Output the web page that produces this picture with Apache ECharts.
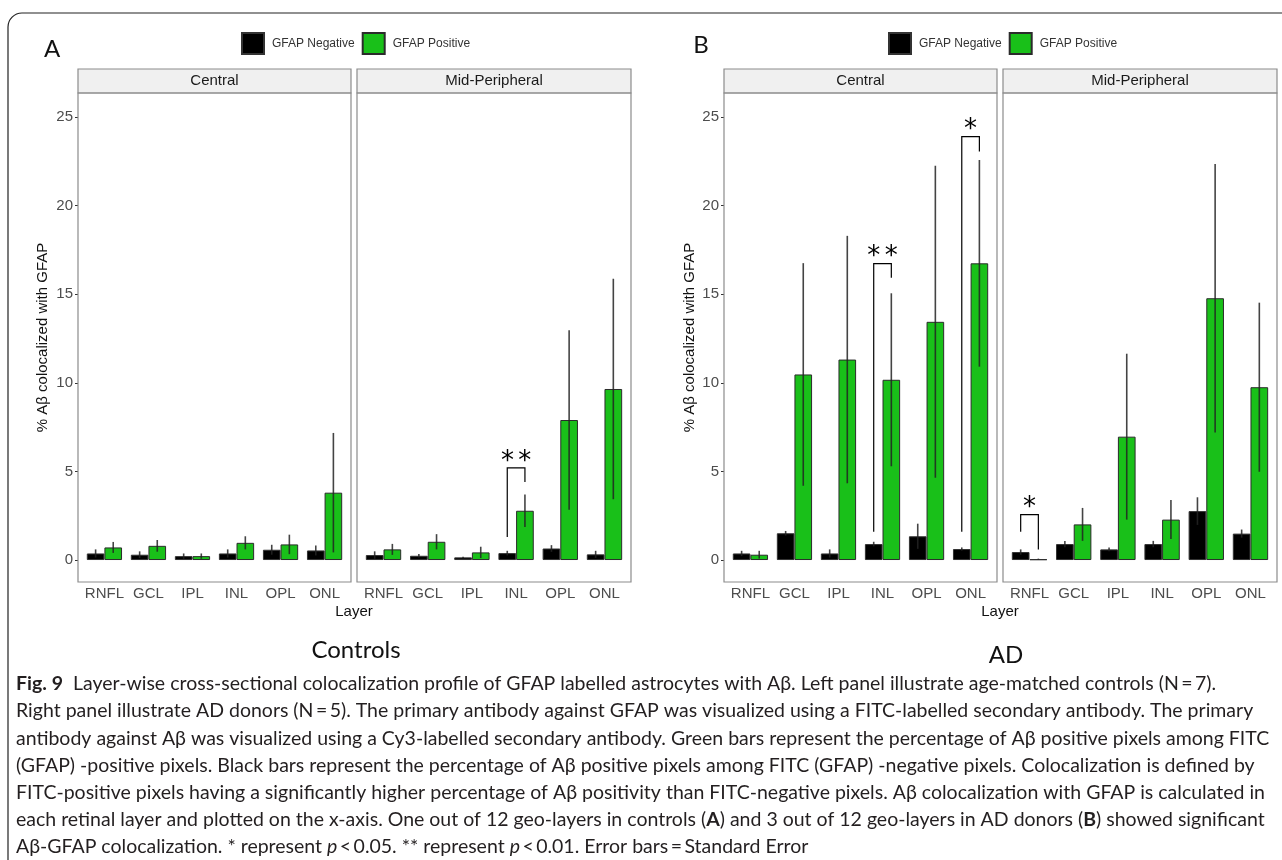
<!DOCTYPE html>
<html>
<head>
<meta charset="utf-8">
<script src="https://cdn.jsdelivr.net/npm/echarts@6/dist/echarts.min.js"></script>
<style>
  html, body { margin: 0; padding: 0; background: #fff; }
  #chart { width: 1282px; height: 860px; }
</style>
</head>
<body>
<div id="chart"></div>
<script>
const layers = ["RNFL", "GCL", "IPL", "INL", "OPL", "ONL"];
const regions = ["Central", "Mid-Peripheral"];
const yTicks = [0, 5, 10, 15, 20, 25];

// A: controls
const ctrlCentralNeg = [0.37, 0.30, 0.22, 0.37, 0.58, 0.54];
const ctrlCentralNegSE = [0.23, 0.19, 0.15, 0.23, 0.28, 0.28];
const ctrlCentralPos = [0.71, 0.80, 0.22, 0.97, 0.88, 3.80];
const ctrlCentralPosSE = [0.31, 0.33, 0.15, 0.37, 0.55, 3.37];
const ctrlMidNeg = [0.28, 0.24, 0.15, 0.39, 0.65, 0.32];
const ctrlMidNegSE = [0.21, 0.10, 0.04, 0.13, 0.19, 0.20];
const ctrlMidPos = [0.60, 1.03, 0.43, 2.78, 7.90, 9.65];
const ctrlMidPosSE = [0.31, 0.43, 0.32, 0.92, 5.06, 6.22];

// B: AD donors
const adCentralNeg = [0.37, 1.51, 0.37, 0.90, 1.34, 0.62];
const adCentralNegSE = [0.15, 0.13, 0.23, 0.13, 0.71, 0.09];
const adCentralPos = [0.30, 10.47, 11.31, 10.17, 13.44, 16.74];
const adCentralPosSE = [0.22, 6.28, 6.98, 4.88, 8.80, 5.83];
const adMidNeg = [0.45, 0.90, 0.60, 0.90, 2.76, 1.49];
const adMidNegSE = [0.15, 0.18, 0.11, 0.18, 0.78, 0.23];
const adMidPos = [0.04, 2.01, 6.96, 2.28, 14.77, 9.75];
const adMidPosSE = [0.04, 0.93, 4.68, 1.10, 7.57, 4.77];

// significance brackets: [layer index, top, left leg end, right leg end, mark]
const ctrlCentralSig = [];
const ctrlMidSig = [[3, 5.2, 1.3, 4.4, "*\u2006*"]];
const adCentralSig = [[3, 16.72, 1.59, 15.93, "*\u2006*"], [5, 23.89, 1.59, 23.05, "*"]];
const adMidSig = [[0, 2.56, 1.59, 0.6, "*"]];

const chart = echarts.init(document.getElementById("chart"));

const AXIS_FONT = "Liberation Sans, Arial, sans-serif";
const CAP_FONT = "Lato, sans-serif";
const CAP_SIZE = 19.5;
const GREEN = "#19c019";

// panel boxes (layout only)
const panels = [
  { left: 78, width: 273, region: 0 },
  { left: 357, width: 274, region: 1 },
  { left: 724, width: 273, region: 0 },
  { left: 1003, width: 274, region: 1 },
];
const PANEL_TOP = 93, PANEL_H = 489, STRIP_TOP = 69, STRIP_H = 24;
const Y_MIN = -1.24, Y_MAX = 26.35;

const panelData = [
  { neg: ctrlCentralNeg, negSE: ctrlCentralNegSE, pos: ctrlCentralPos, posSE: ctrlCentralPosSE, sig: ctrlCentralSig },
  { neg: ctrlMidNeg, negSE: ctrlMidNegSE, pos: ctrlMidPos, posSE: ctrlMidPosSE, sig: ctrlMidSig },
  { neg: adCentralNeg, negSE: adCentralNegSE, pos: adCentralPos, posSE: adCentralPosSE, sig: adCentralSig },
  { neg: adMidNeg, negSE: adMidNegSE, pos: adMidPos, posSE: adMidPosSE, sig: adMidSig },
];

function errSeries(p, mean, se, side) {
  return {
    type: "custom", xAxisIndex: p, yAxisIndex: p, silent: true, z: 4,
    data: mean.map((m, i) => [i, Math.max(0, m - se[i]), m + se[i]]),
    renderItem: (params, api) => {
      const band = api.size([1, 0])[0];
      const lo = api.coord([api.value(0), api.value(1)]);
      const hi = api.coord([api.value(0), api.value(2)]);
      const x = lo[0] + side * band * 0.2;
      return {
        type: "line",
        shape: { x1: x, y1: lo[1], x2: x, y2: hi[1] },
        style: { stroke: "rgba(35,35,35,0.85)", lineWidth: 1.6 },
      };
    },
  };
}

function sigSeries(p, sig) {
  return {
    type: "custom", xAxisIndex: p, yAxisIndex: p, silent: true, z: 5,
    data: sig.map(r => [r[0], r[1], r[2], r[3]]),
    renderItem: (params, api) => {
      const band = api.size([1, 0])[0];
      const c = api.coord([api.value(0), api.value(1)]);
      const yl = api.coord([api.value(0), api.value(2)])[1];
      const yr = api.coord([api.value(0), api.value(3)])[1];
      const xl = c[0] - band * 0.2, xr = c[0] + band * 0.2;
      return {
        type: "group",
        children: [
          { type: "polyline", shape: { points: [[xl, yl], [xl, c[1]], [xr, c[1]], [xr, yr]] },
            style: { stroke: "#000", lineWidth: 1.2, fill: null } },
          { type: "text", x: c[0], y: c[1] - 6,
            style: { text: sig[params.dataIndex][4], fontSize: 26, fontFamily: "DejaVu Sans", fill: "#000",
                     align: "center", verticalAlign: "middle" } },
        ],
      };
    },
  };
}

const grids = [], xAxes = [], yAxes = [], series = [];
panels.forEach((pn, p) => {
  const unit = pn.width / 6.2;
  grids.push({ left: pn.left + 0.1 * unit, width: 6 * unit, top: PANEL_TOP, height: PANEL_H });
  xAxes.push({
    type: "category", gridIndex: p, data: layers,
    axisLine: { show: false },
    axisTick: { alignWithLabel: true, length: 3, lineStyle: { color: "#333" } },
    axisLabel: { color: "#4d4d4d", fontSize: 15, fontFamily: AXIS_FONT, margin: 4, interval: 0 },
  });
  const leftPanel = pn.region === 0;
  yAxes.push({
    type: "value", gridIndex: p, min: Y_MIN, max: Y_MAX, offset: 0.1 * unit,
    splitLine: { show: false }, axisLine: { show: false },
    axisTick: { show: leftPanel, length: 3, lineStyle: { color: "#333" }, customValues: yTicks },
    axisLabel: { show: leftPanel, color: "#4d4d4d", fontSize: 15, fontFamily: AXIS_FONT, margin: 5, customValues: yTicks },
  });
  const d = panelData[p];
  series.push({
    type: "bar", name: "GFAP Negative", xAxisIndex: p, yAxisIndex: p, data: d.neg,
    barWidth: 0.4 * unit, barGap: "0%",
    itemStyle: { color: "#000", borderColor: "#333", borderWidth: 1 },
  });
  series.push({
    type: "bar", name: "GFAP Positive", xAxisIndex: p, yAxisIndex: p, data: d.pos,
    barWidth: 0.4 * unit, barGap: "0%",
    itemStyle: { color: GREEN, borderColor: "#2b2b2b", borderWidth: 1 },
  });
  series.push(errSeries(p, d.neg, d.negSE, -1));
  series.push(errSeries(p, d.pos, d.posSE, 1));
  if (d.sig.length) series.push(sigSeries(p, d.sig));
});

const graphics = [
  { type: "rect", shape: { x: 8, y: 13, width: 1400, height: 1000, r: 14 },
    style: { stroke: "#222", lineWidth: 1.2, fill: null }, silent: true },
];
panels.forEach(pn => {
  graphics.push({ type: "rect", shape: { x: pn.left, y: STRIP_TOP, width: pn.width, height: STRIP_H },
    style: { fill: "#f0f0f0", stroke: "#8c8c8c", lineWidth: 1.2 }, silent: true });
  graphics.push({ type: "text", x: pn.left + pn.width / 2, y: STRIP_TOP + STRIP_H / 2,
    style: { text: regions[pn.region], fontSize: 15, fontFamily: AXIS_FONT, fill: "#1a1a1a", align: "center", verticalAlign: "middle" } });
  graphics.push({ type: "rect", z: 10, shape: { x: pn.left, y: PANEL_TOP, width: pn.width, height: PANEL_H },
    style: { fill: null, stroke: "#8c8c8c", lineWidth: 1.2 }, silent: true });
});

function txt(x, y, text, size, opts) {
  return Object.assign({ type: "text", x, y, style: Object.assign({ text, fontSize: size, fontFamily: CAP_FONT, fill: "#111",
    align: "center", verticalAlign: "middle" }, opts || {}) });
}

graphics.push(txt(52, 49, "A", 24));
graphics.push(txt(701, 45, "B", 24));
[43, 690].forEach(x => graphics.push({ type: "text", x, y: PANEL_TOP + PANEL_H / 2, rotation: Math.PI / 2,
  style: { text: "% Aβ colocalized with GFAP", fontSize: 15, fontFamily: AXIS_FONT, fill: "#111", align: "center", verticalAlign: "middle" } }));
graphics.push(txt(354, 612, "Layer", 15, { fontFamily: AXIS_FONT }));
graphics.push(txt(1000, 612, "Layer", 15, { fontFamily: AXIS_FONT }));
graphics.push(txt(356, 650, "Controls", 24));
graphics.push(txt(1006, 655, "AD", 24));

const captionLines = [
  "{b|Fig. 9}  Layer-wise cross-sectional colocalization profile of GFAP labelled astrocytes with Aβ. Left panel illustrate age-matched controls (N\u2009=\u20097).",
  "Right panel illustrate AD donors (N\u2009=\u20095). The primary antibody against GFAP was visualized using a FITC-labelled secondary antibody. The primary",
  "antibody against Aβ was visualized using a Cy3-labelled secondary antibody. Green bars represent the percentage of Aβ positive pixels among FITC",
  "(GFAP) -positive pixels. Black bars represent the percentage of Aβ positive pixels among FITC (GFAP) -negative pixels. Colocalization is defined by",
  "FITC-positive pixels having a significantly higher percentage of Aβ positivity than FITC-negative pixels. Aβ colocalization with GFAP is calculated in",
  "each retinal layer and plotted on the x-axis. One out of 12 geo-layers in controls ({b|A}) and 3 out of 12 geo-layers in AD donors ({b|B}) showed significant",
  "Aβ-GFAP colocalization. * represent {i|p}\u2009<\u20090.05. ** represent {i|p}\u2009<\u20090.01. Error bars\u2009=\u2009Standard Error",
];
captionLines.forEach((line, k) => {
  graphics.push({ type: "text", x: 16, y: 684 + 27.2 * k,
    style: { text: line, fontSize: CAP_SIZE, fontFamily: CAP_FONT, fill: "#231f20", align: "left", verticalAlign: "middle",
      rich: {
        b: { fontWeight: "bold", fontSize: CAP_SIZE, fontFamily: CAP_FONT, fill: "#231f20" },
        i: { fontStyle: "italic", fontSize: CAP_SIZE, fontFamily: CAP_FONT, fill: "#231f20" },
      } } });
});

chart.setOption({
  animation: false,
  backgroundColor: "#fff",
  legend: [241, 888].map(x => ({
    data: ["GFAP Negative", "GFAP Positive"], left: x, top: 32, orient: "horizontal", padding: 0,
    itemWidth: 22, itemHeight: 21, itemGap: 7, selectedMode: false, icon: "rect",
    textStyle: { fontSize: 12, color: "#333", fontFamily: AXIS_FONT, padding: [0, 0, 0, 3] },
  })),
  grid: grids,
  xAxis: xAxes,
  yAxis: yAxes,
  series,
  graphic: graphics,
});
</script>
</body>
</html>
